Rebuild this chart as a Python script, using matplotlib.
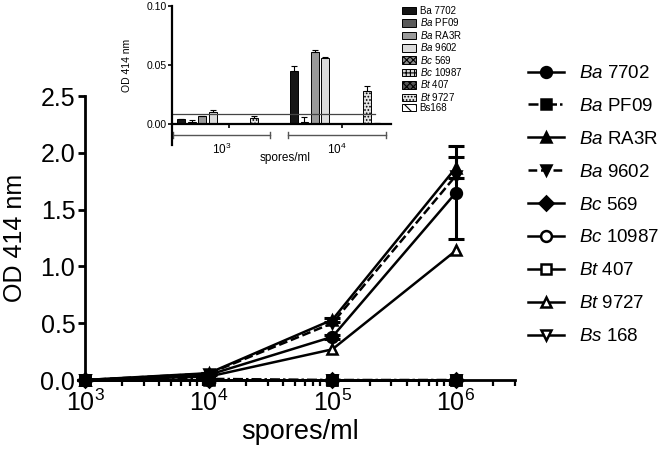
import matplotlib
matplotlib.use("Agg")
import matplotlib.pyplot as plt
import numpy as np
from matplotlib.patches import Patch

plt.rcParams['font.family'] = ['Liberation Sans', 'DejaVu Sans']
plt.rcParams['mathtext.fontset'] = 'custom'
plt.rcParams['mathtext.rm'] = 'Liberation Sans'
plt.rcParams['mathtext.it'] = 'Liberation Sans:italic'
plt.rcParams['hatch.linewidth'] = 0.8

# ---------------- data ----------------
spores = [1e3, 1e4, 1e5, 1e6]
strains = ["Ba 7702", "Ba PF09", "Ba RA3R", "Ba 9602", "Bc 569",
           "Bc 10987", "Bt 407", "Bt 9727", "Bs 168"]
ba7702 = [0.0, 0.045, 0.38, 1.65]
ba7702_err = [0.0, 0.004, 0.02, 0.41]
bapf09 = [0.0, 0.01, 0.0, 0.0]
bara3r = [0.0, 0.06, 0.53, 1.87]
bara3r_err = [0.0, 0.002, 0.02, 0.09]
ba9602 = [0.0, 0.056, 0.50, 1.80]
bc569 = [0.0, 0.0, 0.0, 0.0]
bc10987 = [0.0, 0.0, 0.0, 0.0]
bt407 = [0.0, 0.0, 0.0, 0.0]
bt9727 = [0.0, 0.03, 0.27, 1.14]
bs168 = [0.0, 0.0, 0.0, 0.0]

# inset bars (OD 414 nm) at 10^3 and 10^4 spores/ml
inset_groups = ["10$^3$", "10$^4$"]
inset_labels = ["Ba 7702", "$\\mathit{Ba}$ PF09", "$\\mathit{Ba}$ RA3R", "$\\mathit{Ba}$ 9602",
                "$\\mathit{Bc}$ 569", "$\\mathit{Bc}$ 10987", "$\\mathit{Bt}$ 407",
                "$\\mathit{Bt}$ 9727", "Bs168"]
inset_e3 = [0.004, 0.002, 0.007, 0.010, 0.0, 0.0, 0.0, 0.005, 0.0]
inset_e3_err = [0.0, 0.0015, 0.0, 0.002, 0.0, 0.0, 0.0, 0.002, 0.0]
inset_e4 = [0.045, 0.002, 0.061, 0.056, 0.0, 0.0, 0.0, 0.028, 0.001]
inset_e4_err = [0.004, 0.004, 0.002, 0.001, 0.0, 0.0, 0.0, 0.004, 0.0]
cutoff = 0.0085

# ---------------- figure ----------------
fig = plt.figure(figsize=(6.66, 4.54), dpi=100)
ax = fig.add_axes([85/666, 1-380/454, (515-85)/666, (380-96)/454])

series = [
    (ba7702, dict(ls='-', marker='o', mfc='k', zorder=4)),
    (bapf09, dict(ls=(0, (4, 1.2, 1, 1.2)), marker='s', mfc='k', zorder=6)),
    (bara3r, dict(ls='-', marker='^', mfc='k', zorder=4)),
    (ba9602, dict(ls=(0, (3.5, 1.5)), marker='v', mfc='k', zorder=4)),
    (bc569, dict(ls='-', marker='D', mfc='k', zorder=3)),
    (bc10987, dict(ls='-', marker='o', mfc='white', zorder=3)),
    (bt407, dict(ls='-', marker='s', mfc='white', zorder=3)),
    (bt9727, dict(ls='-', marker='^', mfc='white', zorder=4)),
    (bs168, dict(ls='-', marker='v', mfc='white', zorder=3)),
]
legend_labels = ["$\\mathit{Ba}$ 7702", "$\\mathit{Ba}$ PF09", "$\\mathit{Ba}$ RA3R",
                 "$\\mathit{Ba}$ 9602", "$\\mathit{Bc}$ 569", "$\\mathit{Bc}$ 10987",
                 "$\\mathit{Bt}$ 407", "$\\mathit{Bt}$ 9727", "$\\mathit{Bs}$ 168"]
handles = []
for (vals, st), lab in zip(series, legend_labels):
    ms = 7.8 if st['marker'] != 'D' else 6.8
    h, = ax.plot(spores, vals, color='k', lw=1.8, mec='k', mew=1.8, ms=ms,
                 clip_on=False, label=lab, **st)
    handles.append(h)

ax.errorbar(spores, ba7702, yerr=ba7702_err, fmt='none', ecolor='k', elinewidth=2.2,
            capsize=6, capthick=2.2, clip_on=False, zorder=5)
ax.errorbar(spores, bara3r, yerr=bara3r_err, fmt='none', ecolor='k', elinewidth=2.2,
            capsize=6, capthick=2.2, clip_on=False, zorder=5)

ax.set_xscale('log')
ax.set_xlim(1e3, 3e6)
ax.set_ylim(0, 2.5)
ax.set_yticks([0, 0.5, 1.0, 1.5, 2.0, 2.5])
ax.set_yticklabels(["0.0", "0.5", "1.0", "1.5", "2.0", "2.5"])
ax.set_xticks([1e3, 1e4, 1e5, 1e6])
ax.set_xticklabels(["$10^{3}$", "$10^{4}$", "$10^{5}$", "$10^{6}$"])
ax.xaxis.set_minor_locator(matplotlib.ticker.LogLocator(base=10, subs=np.arange(2, 10), numticks=20))
ax.xaxis.set_minor_formatter(matplotlib.ticker.NullFormatter())
for s in ['top', 'right']:
    ax.spines[s].set_visible(False)
for s in ['left', 'bottom']:
    ax.spines[s].set_linewidth(2.0)
ax.tick_params(axis='both', which='major', labelsize=18, width=2, length=5, direction='out', pad=2)
ax.tick_params(axis='x', which='minor', width=1.6, length=4, direction='out')
ax.set_xlabel("spores/ml", fontsize=19.5, labelpad=2)
ax.set_ylabel("OD 414 nm", fontsize=18, labelpad=10)

fig.legend(handles=handles, loc='upper left', bbox_to_anchor=(528/666, 1-65/454),
           frameon=False, fontsize=13.5, handlelength=1.9, handletextpad=0.8,
           labelspacing=0.84, borderaxespad=0, borderpad=0)

# ---------------- inset ----------------
ai = fig.add_axes([172/666, 1-124/454, (391-172)/666, (124-6)/454])
bar_styles = [
    dict(color='#151515'),
    dict(color='#5a5a5a'),
    dict(color='#9a9a9a'),
    dict(color='#dcdcdc'),
    dict(color='#8a8a8a', hatch='xxxxx'),
    dict(color='#d8d8d8', hatch='++++'),
    dict(color='#555555', hatch='xxxxx'),
    dict(color='#e6e6e6', hatch='.....'),
    dict(color='white', hatch='\\\\\\'),
]
group_offset = 10.8
inset_handles = []
for i, st in enumerate(bar_styles):
    xs = [i, group_offset + i]
    vals = [inset_e3[i], inset_e4[i]]
    errs = [inset_e3_err[i], inset_e4_err[i]]
    ai.bar(xs, vals, width=0.75, color=st['color'], edgecolor='k', linewidth=0.7,
           hatch=st.get('hatch'))
    ai.errorbar(xs, vals, yerr=[[0, 0], errs], fmt='none', ecolor='k', elinewidth=0.8,
                capsize=2, capthick=0.8)
    inset_handles.append(Patch(facecolor=st['color'], edgecolor='k', linewidth=0.7,
                               hatch=st.get('hatch'), label=inset_labels[i]))
ai.axhline(cutoff, xmin=0, xmax=(375-172)/(391-172), color='#444444', lw=0.9)
ai.set_xlim(-0.9, 20.1)
ai.set_ylim(0, 0.10)
ai.set_yticks([0, 0.05, 0.10])
ai.set_yticklabels(["0.00", "0.05", "0.10"])
ai.set_xticks([4.6, 15.4])
ai.set_xticklabels([])
for s in ['top', 'right']:
    ai.spines[s].set_visible(False)
for s in ['left', 'bottom']:
    ai.spines[s].set_linewidth(1.6)
ai.patch.set_alpha(0)
ai.tick_params(axis='y', labelsize=7.5, width=1.2, length=3, pad=1)
ai.tick_params(axis='x', width=1.2, length=3)
ai.set_ylabel("OD 414 nm", fontsize=7.5, labelpad=10)

# group brackets under the inset axis
yb = -0.0095
for (x0, x1), lab in zip([(-0.8, 8.5), (10.2, 19.6)], inset_groups):
    ai.plot([x0, x1], [yb, yb], color='#555555', lw=1.0, clip_on=False)
    for xx in (x0, x1):
        ai.plot([xx, xx], [yb - 0.0025, yb + 0.0025], color='#555555', lw=1.0, clip_on=False)
    ai.text((x0 + x1) / 2, yb - 0.006, lab, ha='center', va='top', fontsize=8.5)
ai.text(9.9, -0.024, "spores/ml", ha='center', va='top', fontsize=8.5)
ai.spines['left'].set_bounds(-0.018, 0.10)

fig.legend(handles=inset_handles, loc='upper left', bbox_to_anchor=(402/666, 1-6/454),
           frameon=False, fontsize=7, handlelength=1.4, handleheight=0.8,
           handletextpad=0.4, labelspacing=0.04, borderaxespad=0, borderpad=0)

fig.savefig("out.png", dpi=100)
